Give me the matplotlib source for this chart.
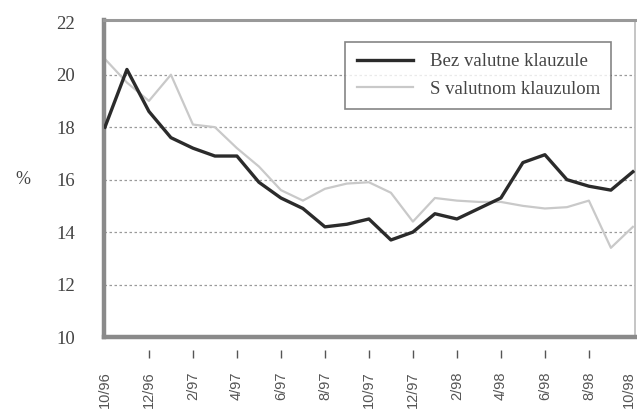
import matplotlib
matplotlib.use("Agg")
import matplotlib.pyplot as plt
import matplotlib.transforms as mtransforms

months = ["10/96", "11/96", "12/96", "1/97", "2/97", "3/97", "4/97", "5/97", "6/97",
          "7/97", "8/97", "9/97", "10/97", "11/97", "12/97", "1/98", "2/98", "3/98",
          "4/98", "5/98", "6/98", "7/98", "8/98", "9/98", "10/98"]
bez = [18.0, 20.2, 18.6, 17.6, 17.2, 16.9, 16.9, 15.9, 15.3, 14.9, 14.2, 14.3, 14.5,
       13.7, 14.0, 14.7, 14.5, 14.9, 15.3, 16.65, 16.95, 16.0, 15.75, 15.6, 16.3]
sval = [20.6, 19.7, 19.0, 20.0, 18.1, 18.0, 17.2, 16.5, 15.6, 15.2, 15.65, 15.85, 15.9,
        15.5, 14.4, 15.3, 15.2, 15.15, 15.15, 15.0, 14.9, 14.95, 15.2, 13.4, 14.2]
tick_labels = ["10/96", "12/96", "2/97", "4/97", "6/97", "8/97", "10/97", "12/97",
               "2/98", "4/98", "6/98", "8/98", "10/98"]
yticks = [10, 12, 14, 16, 18, 20, 22]
series_names = ["Bez valutne klauzule", "S valutnom klauzulom"]

x = list(range(len(months)))
tick_pos = [months.index(t) for t in tick_labels]

fig = plt.figure(figsize=(6.37, 4.09), dpi=100)
ax = fig.add_axes([0.163, 0.176, 0.834, 0.776])

for yv in yticks[1:-1]:
    ax.axhline(yv, color="#9a9a9a", lw=0.9, ls=(0, (2, 2)), zorder=1)

ax.plot(x, sval, color="#c9c9c9", lw=1.6, zorder=2, label=series_names[1])
ax.plot(x, bez, color="#2b2b2b", lw=2.4, zorder=3, label=series_names[0])

ax.set_xlim(-0.05, 24.1)
ax.set_ylim(10, 22.1)

ax.set_yticks(yticks)
ax.set_yticklabels([str(v) for v in yticks], family="Liberation Serif", fontsize=13.5,
                   color="#444444")
ax.tick_params(axis="y", length=0, pad=21)

ax.set_xticks(tick_pos)
ax.set_xticklabels(tick_labels, rotation=90, family=["Liberation Sans Narrow", "Liberation Sans"],
                   fontsize=10.5, color="#555555", va="top")
ax.tick_params(axis="x", length=0, pad=25)
# keep the last label inside the picture
last = ax.get_xticklabels()[-1]
last.set_transform(last.get_transform() + mtransforms.ScaledTranslation(-4 / 100, 0, fig.dpi_scale_trans))

# small detached tick marks below the axis
trans = mtransforms.blended_transform_factory(ax.transData, ax.transAxes)
inner = tick_pos[1:-1]
ax.plot(inner, [-0.055] * len(inner), ls="none", marker="|", ms=6, mew=1.0,
        color="#555555", transform=trans, clip_on=False)

for side, w, c in [("left", 3.2, "#8a8a8a"), ("bottom", 3.2, "#8a8a8a"),
                   ("top", 2.2, "#999999"), ("right", 1.2, "#bbbbbb")]:
    ax.spines[side].set_linewidth(w)
    ax.spines[side].set_color(c)

fig.text(0.036, 0.56, "%", family="Liberation Serif", fontsize=13, color="#444444",
         ha="center", va="center")

h, l = ax.get_legend_handles_labels()
leg = ax.legend(h[::-1], l[::-1], loc="upper right", bbox_to_anchor=(0.955, 0.93),
                prop={"family": "Liberation Serif", "size": 13.5}, frameon=True,
                fancybox=False, edgecolor="#666666", handlelength=3.0,
                borderpad=0.6, labelspacing=0.55, handletextpad=0.9, borderaxespad=0)
leg.get_frame().set_linewidth(1.2)
for t in leg.get_texts():
    t.set_color("#444444")

fig.savefig("out.png", dpi=100)
